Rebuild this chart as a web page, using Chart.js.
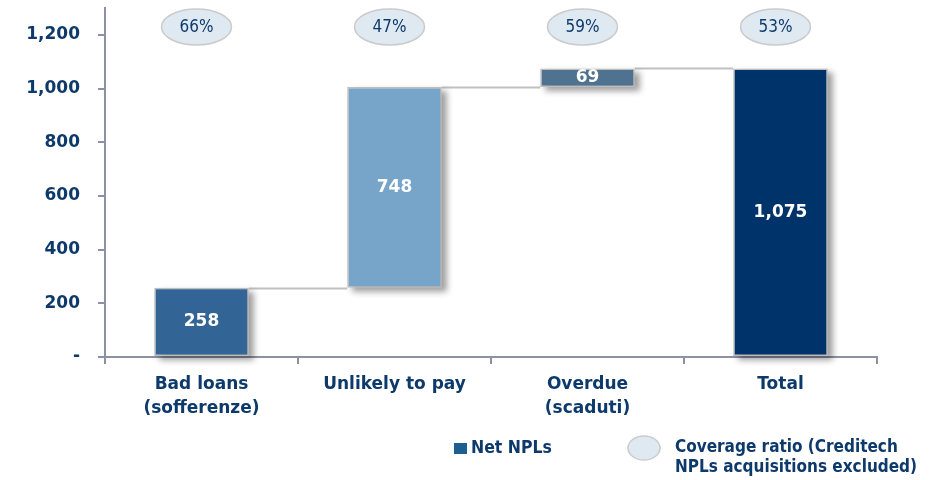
<!DOCTYPE html>
<html>
<head>
<meta charset="utf-8">
<script src="https://cdn.jsdelivr.net/npm/chart.js@4.4.1/dist/chart.umd.min.js"></script>
<style>
  html, body { margin: 0; padding: 0; background: #fff; }
  #wrap { width: 936px; height: 480px; }
</style>
</head>
<body>
<div id="wrap"><canvas id="npl" width="936" height="480"></canvas></div>
<script>
// net NPL breakdown, EUR m
const categories = [['Bad loans', '(sofferenze)'], ['Unlikely to pay'], ['Overdue', '(scaduti)'], ['Total']];
const netNpl = [258, 748, 69, 1075];
const isTotal = [false, false, false, true];
const coverage = ['66%', '47%', '59%', '53%'];
const barColors = ['#336496', '#76a5c9', '#4f7290', '#00336a'];
const yTicks = [0, 200, 400, 600, 800, 1000, 1200];

const FONT = '"DejaVu Sans", sans-serif';
const FONT_NARROW = '"DejaVu Sans Condensed", "DejaVu Sans", sans-serif';
const NAVY = '#0d3a6b';

// floating ranges: each step starts where the previous one ended
let running = 0;
const ranges = netNpl.map((v, i) => {
  if (isTotal[i]) return [0, v];
  const r = [running, running + v];
  running += v;
  return r;
});

const fmt = v => v.toLocaleString('en-US');

// connectors and soft drop shadows behind the bars
const underlay = {
  id: 'underlay',
  beforeDatasetsDraw(chart) {
    const ctx = chart.ctx;
    const bars = chart.getDatasetMeta(0).data;
    const y = chart.scales.y;
    ctx.save();
    ctx.strokeStyle = '#c0c0c0';
    ctx.lineWidth = 2;
    for (let i = 0; i < bars.length - 1; i++) {
      const a = bars[i], b = bars[i + 1];
      const py = Math.round(y.getPixelForValue(ranges[i][1])) + 0.5;
      ctx.beginPath();
      ctx.moveTo(a.x + a.width / 2, py);
      ctx.lineTo(b.x - b.width / 2, py);
      ctx.stroke();
    }
    ctx.filter = 'blur(3px)';
    ctx.fillStyle = 'rgba(0,0,0,0.38)';
    bars.forEach(bar => {
      const top = Math.min(bar.y, bar.base);
      const h = Math.abs(bar.base - bar.y);
      ctx.fillRect(bar.x - bar.width / 2 + 5, top + 4, bar.width, h);
    });
    ctx.restore();
  }
};

const extras = {
  id: 'extras',
  afterDraw(chart) {
    const ctx = chart.ctx;
    const bars = chart.getDatasetMeta(0).data;
    ctx.save();

    // values inside the bars
    ctx.fillStyle = '#fff';
    ctx.font = 'bold 17px ' + FONT;
    ctx.textAlign = 'center';
    ctx.textBaseline = 'middle';
    bars.forEach((bar, i) => {
      ctx.fillText(fmt(netNpl[i]), bar.x, (bar.y + bar.base) / 2);
    });

    // coverage ratio bubbles
    bars.forEach((bar, i) => {
      ctx.beginPath();
      ctx.ellipse(bar.x - 5, 27, 35, 18, 0, 0, Math.PI * 2);
      ctx.fillStyle = '#dfe9f2';
      ctx.fill();
      ctx.strokeStyle = '#cbcbcb';
      ctx.lineWidth = 1.5;
      ctx.stroke();
      ctx.fillStyle = NAVY;
      ctx.font = '17px ' + FONT_NARROW;
      ctx.fillText(coverage[i], bar.x - 5, 28);
    });

    // legend
    ctx.textAlign = 'left';
    ctx.fillStyle = '#1d5f90';
    ctx.fillRect(454, 443, 13, 11);
    ctx.fillStyle = NAVY;
    ctx.font = 'bold 17.5px ' + FONT_NARROW;
    ctx.fillText('Net NPLs', 471, 448);

    ctx.beginPath();
    ctx.ellipse(644, 448, 16, 12, 0, 0, Math.PI * 2);
    ctx.fillStyle = '#dfe9f2';
    ctx.fill();
    ctx.strokeStyle = '#cbcbcb';
    ctx.lineWidth = 1.5;
    ctx.stroke();
    ctx.fillStyle = NAVY;
    ctx.font = 'bold 17px ' + FONT_NARROW;
    ctx.fillText('Coverage ratio (Creditech', 675, 448);
    ctx.fillText('NPLs acquisitions excluded)', 675, 468);

    ctx.restore();
  }
};

new Chart(document.getElementById('npl'), {
  type: 'bar',
  data: {
    labels: categories,
    datasets: [{
      label: 'Net NPLs',
      data: ranges,
      backgroundColor: barColors,
      borderColor: '#bdbdbd',
      borderWidth: 1.5,
      borderSkipped: false,
      categoryPercentage: 1,
      barPercentage: 0.49
    }]
  },
  options: {
    responsive: false,
    animation: false,
    devicePixelRatio: 1,
    layout: { padding: { top: 8, right: 59, bottom: 0, left: 0 } },
    plugins: {
      legend: { display: false },
      tooltip: { enabled: false }
    },
    scales: {
      x: {
        afterFit(scale) {
          scale.height = 123;
          scale.paddingLeft = 0;
          scale.paddingRight = 0;
        },
        border: { color: '#8c92a4', width: 2 },
        grid: { offset: true, drawOnChartArea: false, tickLength: 7, color: '#8c92a4', lineWidth: 2 },
        ticks: {
          color: NAVY,
          padding: 8,
          font: { family: FONT, size: 17, weight: 'bold', lineHeight: 1.45 }
        }
      },
      y: {
        min: 0,
        max: 1300,
        afterFit(scale) {
          scale.width = 105;
          scale.paddingTop = 0;
          scale.paddingBottom = 0;
        },
        afterBuildTicks(scale) { scale.ticks = yTicks.map(v => ({ value: v })); },
        border: { color: '#8c92a4', width: 2 },
        grid: { drawOnChartArea: false, tickLength: 7, color: '#8c92a4', lineWidth: 2 },
        ticks: {
          color: NAVY,
          padding: 18,
          font: { family: FONT, size: 17, weight: 'bold' },
          callback: v => v === 0 ? '-' : fmt(v)
        }
      }
    }
  },
  plugins: [underlay, extras]
});
</script>
</body>
</html>
